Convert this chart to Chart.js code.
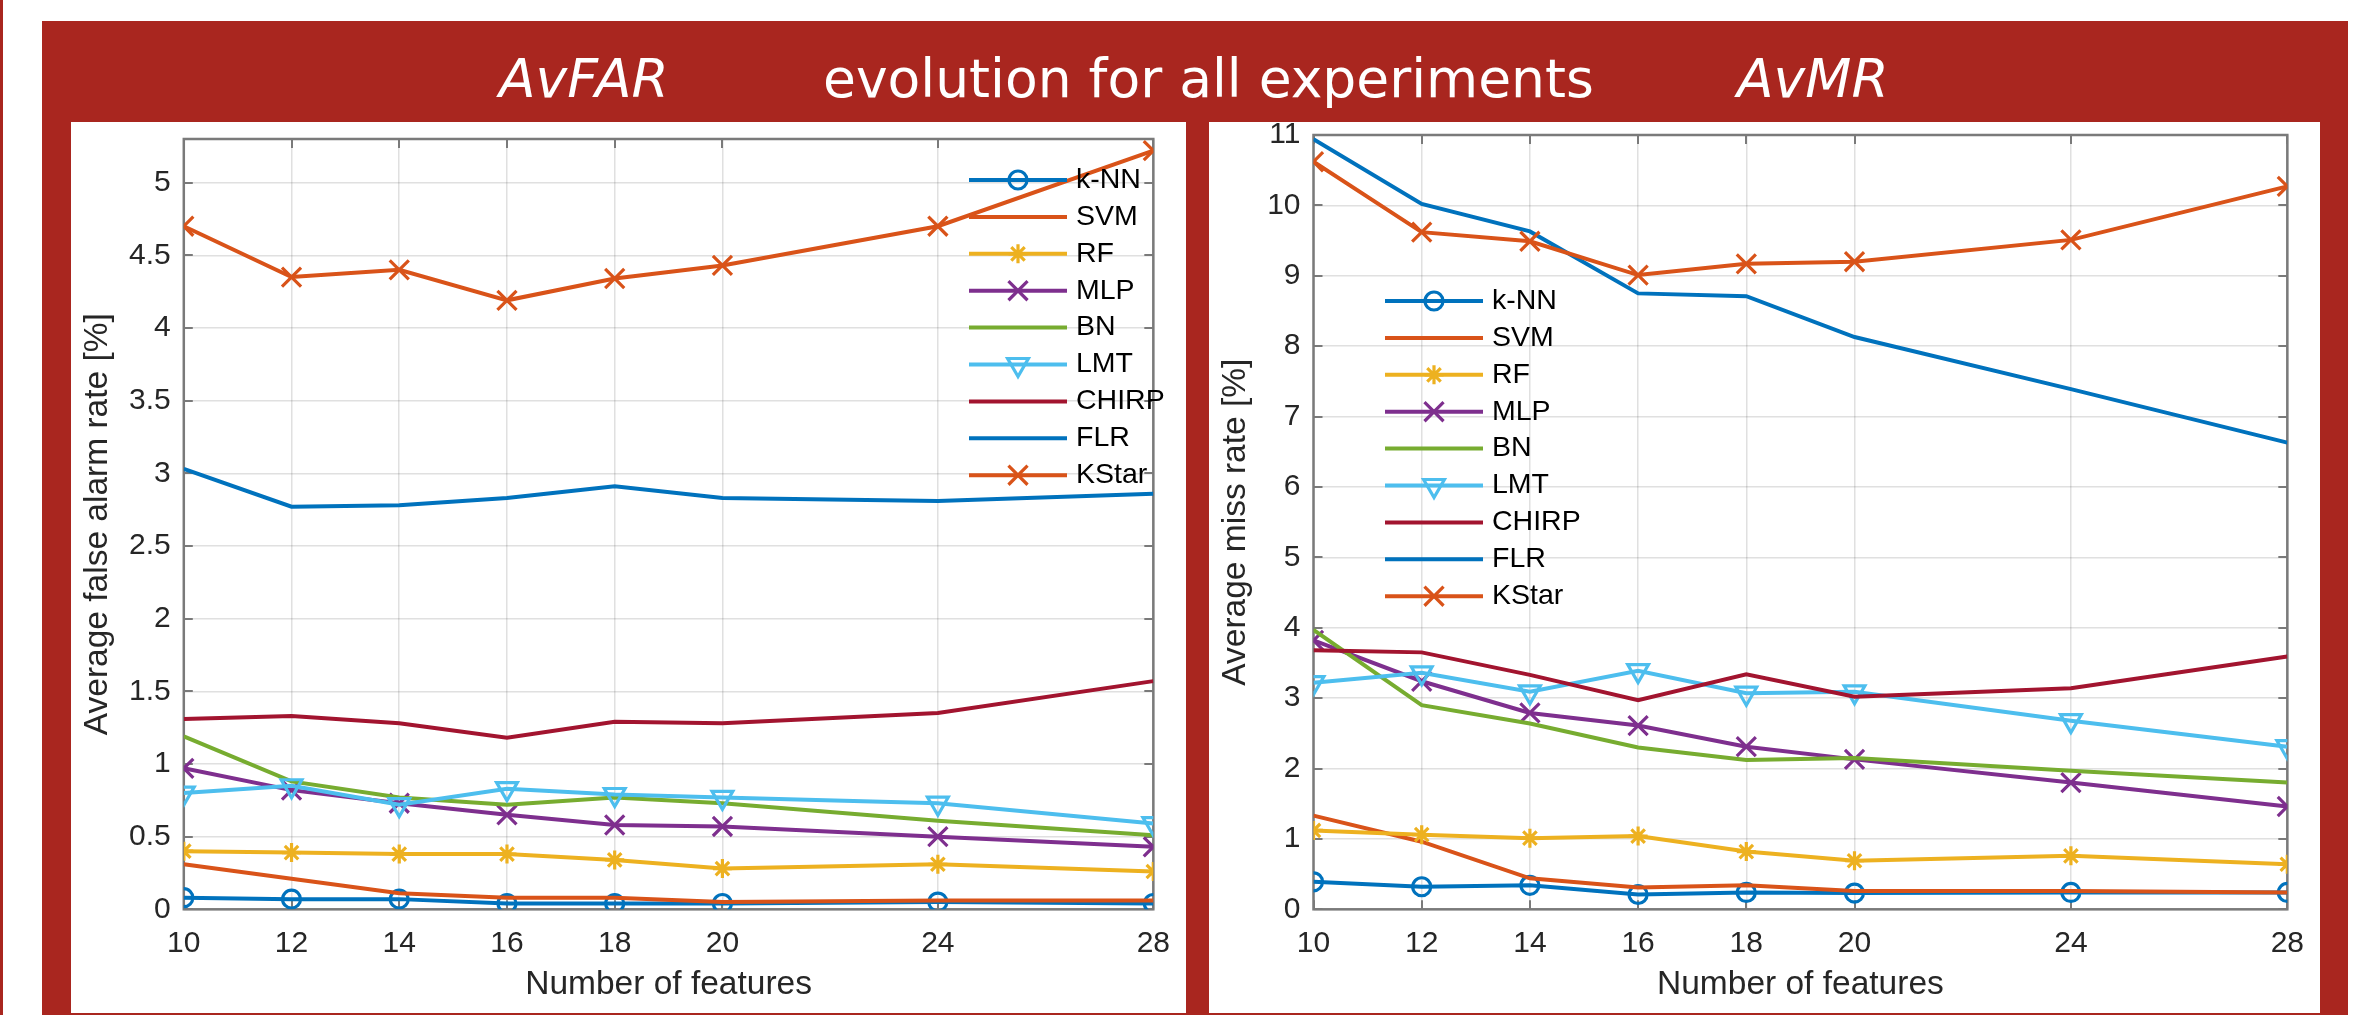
<!DOCTYPE html>
<html><head><meta charset="utf-8">
<script src="https://cdn.jsdelivr.net/npm/chart.js@4.4.1/dist/chart.umd.min.js"></script>
<style>
html,body{margin:0;padding:0;background:#fff;width:2377px;height:1015px;overflow:hidden;}
body{position:relative;}
#edge{position:absolute;left:0;top:0;width:3px;height:1015px;background:#a9261f}
#band{position:absolute;left:42px;top:21px;width:2306px;height:994px;background:#a9261f}
.panel{position:absolute;background:#fff}
#p1{left:71px;top:122px;width:1115px;height:891px}
#p2{left:1209px;top:122px;width:1111px;height:891px}
.tt{position:absolute;top:52px;color:#fff;font-family:'DejaVu Sans',sans-serif;font-size:53.5px;line-height:53.5px;white-space:nowrap}
.it{font-style:italic}
.cw{position:absolute}
#c1w{left:71px;top:100px;width:1115px;height:913px}
#c2w{left:1209px;top:100px;width:1111px;height:913px}
</style></head>
<body>
<div id="edge"></div>
<div id="band"></div>
<div class="panel" id="p1"></div>
<div class="panel" id="p2"></div>
<div class="tt it" style="left:499px">AvFAR</div>
<div class="tt" style="left:823px">evolution for all experiments</div>
<div class="tt it" style="left:1737px">AvMR</div>
<div class="cw" id="c1w"><canvas id="c1" width="1115" height="913"></canvas></div>
<div class="cw" id="c2w"><canvas id="c2" width="1111" height="913"></canvas></div>
<script>
// ---- data ----
const xValues = [10, 12, 14, 16, 18, 20, 24, 28];
const xTicks = [10, 12, 14, 16, 18, 20, 24, 28];
const farTicks = [0, 0.5, 1, 1.5, 2, 2.5, 3, 3.5, 4, 4.5, 5];
const mrTicks = [0, 1, 2, 3, 4, 5, 6, 7, 8, 9, 10, 11];
const seriesNames = ['k-NN', 'SVM', 'RF', 'MLP', 'BN', 'LMT', 'CHIRP', 'FLR', 'KStar'];

const far_kNN   = [0.08, 0.07, 0.07, 0.04, 0.04, 0.04, 0.05, 0.04];
const far_SVM   = [0.31, 0.21, 0.11, 0.08, 0.08, 0.05, 0.06, 0.06];
const far_RF    = [0.40, 0.39, 0.38, 0.38, 0.34, 0.28, 0.31, 0.26];
const far_MLP   = [0.97, 0.82, 0.73, 0.65, 0.58, 0.57, 0.50, 0.43];
const far_BN    = [1.19, 0.88, 0.77, 0.72, 0.77, 0.73, 0.61, 0.51];
const far_LMT   = [0.80, 0.85, 0.72, 0.83, 0.79, 0.77, 0.73, 0.59];
const far_CHIRP = [1.31, 1.33, 1.28, 1.18, 1.29, 1.28, 1.35, 1.57];
const far_FLR   = [3.03, 2.77, 2.78, 2.83, 2.91, 2.83, 2.81, 2.86];
const far_KStar = [4.70, 4.35, 4.40, 4.19, 4.34, 4.43, 4.70, 5.22];

const mr_kNN   = [0.39, 0.32, 0.34, 0.21, 0.24, 0.23, 0.24, 0.24];
const mr_SVM   = [1.33, 0.96, 0.44, 0.31, 0.34, 0.26, 0.26, 0.24];
const mr_RF    = [1.12, 1.06, 1.01, 1.04, 0.82, 0.69, 0.76, 0.64];
const mr_MLP   = [3.82, 3.24, 2.79, 2.61, 2.31, 2.13, 1.80, 1.46];
const mr_BN    = [3.97, 2.90, 2.64, 2.30, 2.12, 2.15, 1.97, 1.80];
const mr_LMT   = [3.22, 3.36, 3.09, 3.39, 3.07, 3.09, 2.68, 2.31];
const mr_CHIRP = [3.68, 3.65, 3.33, 2.97, 3.34, 3.02, 3.14, 3.59];
const mr_FLR   = [10.94, 10.02, 9.63, 8.75, 8.71, 8.13, 7.39, 6.63];
const mr_KStar = [10.62, 9.62, 9.49, 9.01, 9.17, 9.20, 9.51, 10.27];

const farSeries = [far_kNN, far_SVM, far_RF, far_MLP, far_BN, far_LMT, far_CHIRP, far_FLR, far_KStar];
const mrSeries = [mr_kNN, mr_SVM, mr_RF, mr_MLP, mr_BN, mr_LMT, mr_CHIRP, mr_FLR, mr_KStar];

// ---- styles ----
const styles = [
  {color:'#0072BD', marker:'circle', r:9, rot:0},
  {color:'#D95319', marker:false, r:0, rot:0},
  {color:'#EDB120', marker:'star', r:9.5, rot:0},
  {color:'#7E2F8E', marker:'crossRot', r:13.5, rot:0},
  {color:'#77AC30', marker:false, r:0, rot:0},
  {color:'#4DBEEE', marker:'triangle', r:12, rot:180},
  {color:'#A2142F', marker:false, r:0, rot:0},
  {color:'#0072BD', marker:false, r:0, rot:0},
  {color:'#D95319', marker:'crossRot', r:13.5, rot:0}
];
const FONT = "'Liberation Sans', Arial, Helvetica, sans-serif";
const TXT = '#262626';
const AXC = '#7a7a7a';

function makeDatasets(series) {
  return series.map((vals, i) => ({
    label: seriesNames[i],
    data: xValues.map((x, j) => ({x: x, y: vals[j]})),
    borderColor: styles[i].color,
    backgroundColor: styles[i].color,
    borderWidth: 4,
    fill: false,
    tension: 0,
    pointStyle: styles[i].marker || 'circle',
    pointRadius: styles[i].marker ? styles[i].r : 0,
    pointRotation: styles[i].rot,
    pointBorderWidth: 3.2,
    pointBorderColor: styles[i].color,
    pointBackgroundColor: 'rgba(0,0,0,0)',
    order: series.length - i
  }));
}

const boxPlugin = {
  id: 'matlabBox',
  beforeDatasetsDraw(chart) {
    const {ctx, chartArea: a, scales: {x, y}} = chart;
    const tl = 9;
    ctx.save();
    ctx.strokeStyle = AXC;
    ctx.lineWidth = 2;
    ctx.beginPath();
    x.ticks.forEach(t => {
      const px = Math.round(x.getPixelForValue(t.value));
      ctx.moveTo(px, a.bottom); ctx.lineTo(px, a.bottom - tl);
      ctx.moveTo(px, a.top); ctx.lineTo(px, a.top + tl);
    });
    y.ticks.forEach(t => {
      const py = Math.round(y.getPixelForValue(t.value));
      ctx.moveTo(a.left, py); ctx.lineTo(a.left + tl, py);
      ctx.moveTo(a.right, py); ctx.lineTo(a.right - tl, py);
    });
    ctx.stroke();
    ctx.lineWidth = 2.5;
    ctx.strokeRect(a.left, a.top, a.right - a.left, a.bottom - a.top);
    ctx.restore();
  }
};

const legendPlugin = {
  id: 'matlabLegend',
  afterDatasetsDraw(chart, args, opts) {
    const ctx = chart.ctx;
    ctx.save();
    chart.data.datasets.forEach((ds, i) => {
      const yy = opts.y0 + i * opts.dy;
      ctx.strokeStyle = ds.borderColor;
      ctx.lineWidth = ds.borderWidth;
      ctx.beginPath();
      ctx.moveTo(opts.x1, yy); ctx.lineTo(opts.x2, yy);
      ctx.stroke();
      if (ds.pointRadius > 0) {
        ctx.strokeStyle = ds.pointBorderColor;
        ctx.fillStyle = 'rgba(0,0,0,0)';
        ctx.lineWidth = ds.pointBorderWidth;
        Chart.helpers.drawPoint(ctx, {pointStyle: ds.pointStyle, radius: ds.pointRadius, rotation: ds.pointRotation, borderWidth: ds.pointBorderWidth}, (opts.x1 + opts.x2) / 2, yy);
      }
      ctx.fillStyle = '#000';
      ctx.font = '28.5px ' + FONT;
      ctx.textBaseline = 'middle';
      ctx.textAlign = 'left';
      ctx.fillText(ds.label, opts.tx, yy);
    });
    ctx.restore();
  }
};

function makeChart(id, series, yTicks, yMax, yTitle, geo, leg) {
  return new Chart(document.getElementById(id), {
    type: 'line',
    data: {datasets: makeDatasets(series)},
    options: {
      responsive: false, animation: false, devicePixelRatio: 1,
      layout: {padding: {left: 0, right: geo.right, top: geo.top, bottom: 0}},
      plugins: {legend: {display: false}, tooltip: {enabled: false}, matlabLegend: leg},
      scales: {
        x: {
          type: 'linear', min: 10, max: 28,
          afterBuildTicks: s => { s.ticks = xTicks.map(v => ({value: v})); },
          afterFit: s => { s.height = geo.xh; },
          grid: {color: 'rgba(38,38,38,0.14)', lineWidth: 1.5, drawTicks: false},
          border: {display: false},
          ticks: {font: {family: FONT, size: 30}, color: TXT, padding: 16, maxRotation: 0, autoSkip: false, callback: v => String(v)},
          title: {display: true, text: 'Number of features', font: {family: FONT, size: 33.5}, color: TXT, padding: {top: 0, bottom: 8}}
        },
        y: {
          type: 'linear', min: 0, max: yMax,
          afterBuildTicks: s => { s.ticks = yTicks.map(v => ({value: v})); },
          afterFit: s => { s.width = geo.yw; },
          grid: {color: 'rgba(38,38,38,0.14)', lineWidth: 1.5, drawTicks: false},
          border: {display: false},
          ticks: {font: {family: FONT, size: 30}, color: TXT, padding: 13, callback: v => String(v)},
          title: {display: true, text: yTitle, font: {family: FONT, size: 33.5}, color: TXT, padding: {top: 7, bottom: 0}}
        }
      }
    },
    plugins: [boxPlugin, legendPlugin]
  });
}

makeChart('c1', farSeries, farTicks, 5.3, 'Average false alarm rate [%]',
  {right: 22.8, top: 39, xh: 103.7, yw: 112.8},
  {x1: 898, x2: 996, tx: 1005, y0: 80, dy: 36.9});
makeChart('c2', mrSeries, mrTicks, 11, 'Average miss rate [%]',
  {right: 25, top: 35, xh: 103.7, yw: 104.5},
  {x1: 176, x2: 274, tx: 283, y0: 201, dy: 36.9});
</script>
</body></html>
